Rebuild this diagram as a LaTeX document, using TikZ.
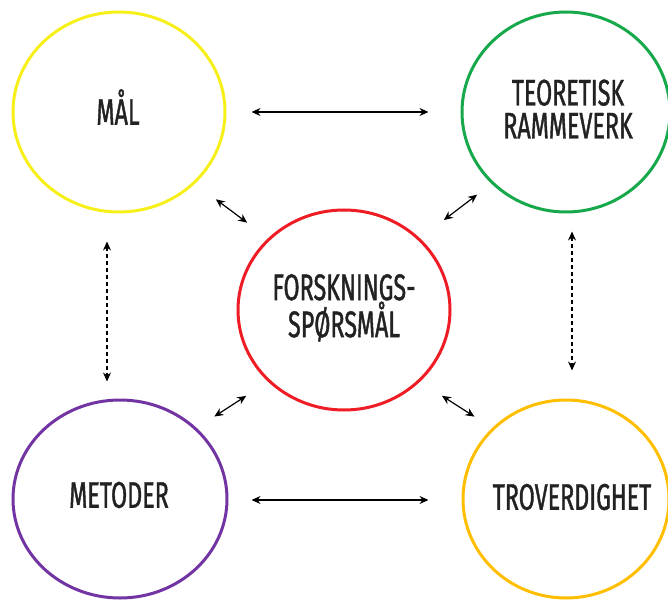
\documentclass[tikz,border=0pt]{standalone}
\usepackage{fontspec}
\usetikzlibrary{shapes.geometric,arrows.meta}
\newfontfamily\handfont[FakeStretch=0.63,FakeBold=1.1]{Fira Sans}
\definecolor{cyellow}{HTML}{F6EF1A}
\definecolor{cgreen}{HTML}{16A84B}
\definecolor{cred}{HTML}{EE1C24}
\definecolor{cpurple}{HTML}{7234A2}
\definecolor{corange}{HTML}{FFBF00}
\definecolor{ctext}{HTML}{222222}
\begin{document}
\begin{tikzpicture}[x=1pt,y=-1pt,
  ring/.style={ellipse,line width=3pt,minimum width=#1,inner sep=0pt},
  lbl/.style={font=\handfont\fontsize{37}{33}\selectfont,text=ctext,align=center,inner sep=0pt},
  link/.style={line width=1.2pt,{Stealth[length=9pt,width=8pt]}-{Stealth[length=9pt,width=8pt]}},
  dlink/.style={link,dash pattern=on 4pt off 3pt}]
\useasboundingbox (0,0) rectangle (668,601);
\node[ring=212pt,draw=cyellow,minimum height=200pt] (mal) at (119,112) {};
\node[ring=208pt,draw=cgreen,minimum height=200pt] (teo) at (566,112) {};
\node[ring=212pt,draw=cred,minimum height=200pt] (fsp) at (344,310) {};
\node[ring=214pt,draw=cpurple,minimum height=198pt] (met) at (120,499) {};
\node[ring=206pt,draw=corange,minimum height=198pt] (tro) at (566,499) {};
\node[lbl] (tmal) at (118,107) {MÅL};
\node[lbl] (tteo) at (568,109) {TEORETISK\\RAMMEVERK};
\node[lbl] (tfsp) at (344,308) {FORSKNINGS-\\SPØRSMÅL};
\node[lbl] (tmet) at (119,495) {METODER};
\node[lbl] (ttro) at (572,497) {TROVERDIGHET};
\draw[link,shorten <=25pt,shorten >=32pt] (mal.east) -- (teo.west);
\draw[link,shorten <=23pt,shorten >=33pt] (met.east |- 0,500) -- (tro.west |- 0,500);
\draw[dlink,shorten <=28pt,shorten >=17pt] ([xshift=-12pt]mal.south) -- ([xshift=-13pt]met.north);
\draw[dlink,shorten <=18pt,shorten >=28pt] ([xshift=6pt]teo.south) -- ([xshift=6pt]tro.north);
\draw[link,shorten <=26pt,shorten >=26pt] (mal.south east) -- (fsp.north west);
\draw[link,shorten <=18pt,shorten >=30pt] (teo.south west) -- (fsp.north east);
\draw[link,shorten <=26pt,shorten >=21pt] (fsp.south west) -- (met.north east);
\draw[link,shorten <=26pt,shorten >=21pt] (fsp.south east) -- (tro.north west);
\end{tikzpicture}
\end{document}
